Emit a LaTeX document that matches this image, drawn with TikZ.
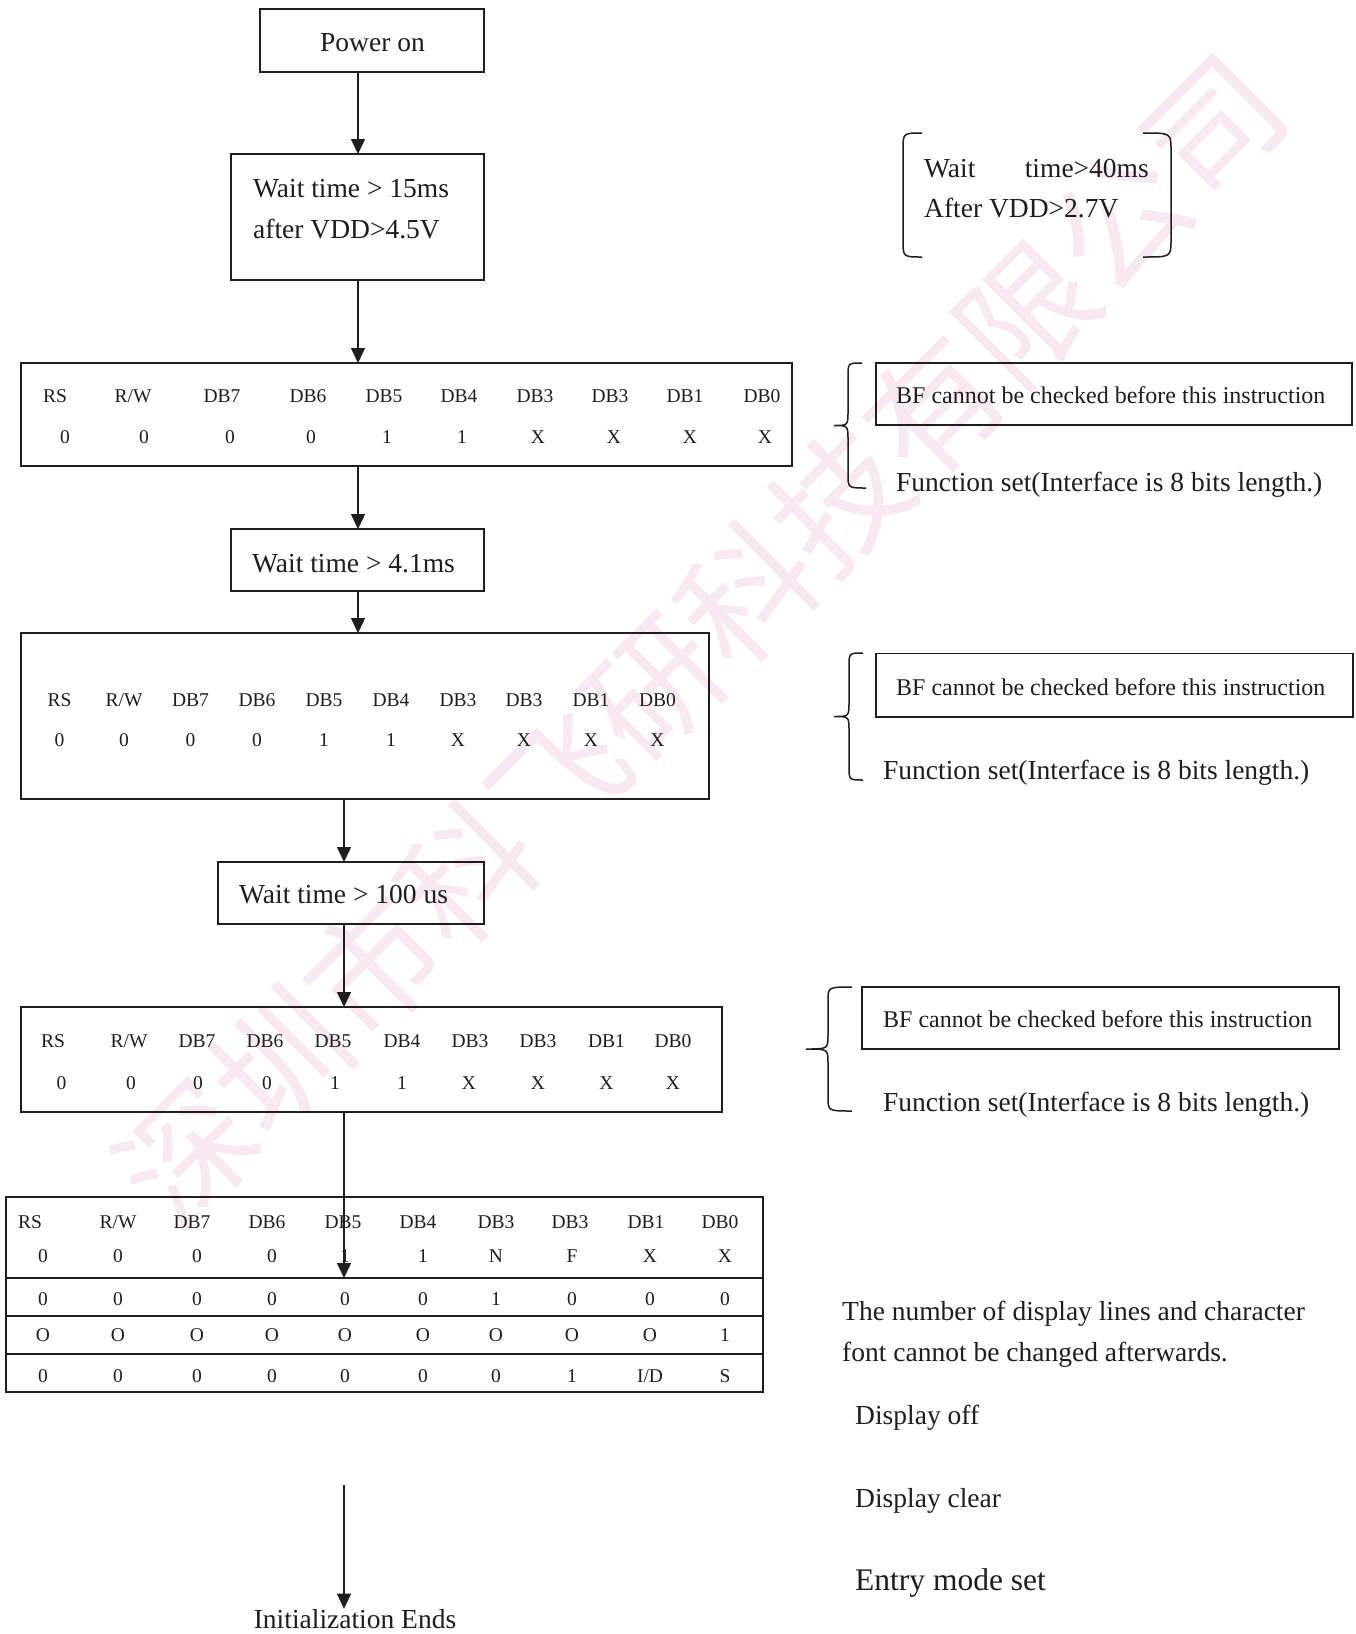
\documentclass[tikz,border=0pt]{standalone}
\usepackage{fontspec}
\setmainfont{Liberation Serif}
\newfontfamily\wmfont{Noto Sans CJK SC}
\usetikzlibrary{arrows.meta}
\definecolor{ink}{RGB}{30,30,30}
\definecolor{wmc}{RGB}{247,232,241}
\def\myRW{R/W}
\def\myID{I/D}
\begin{document}
\begin{tikzpicture}[x=1pt,y=-1pt,
  box/.style={draw=ink,line width=1.6pt,inner sep=0pt,outer sep=0pt,rectangle},
  tbox/.style={draw=ink,line width=2.4pt,inner sep=0pt,outer sep=0pt,rectangle},
  arr/.style={draw=ink,line width=1.4pt,-{Triangle[width=14pt,length=15pt]}},
  brc/.style={draw=ink,line width=1.5pt},
  big/.style={font=\fontsize{27.5}{33}\selectfont,inner sep=0pt,text=ink},
  bf/.style={font=\fontsize{24}{29}\selectfont,inner sep=0pt,anchor=base west,text=ink},
  cell/.style={font=\fontsize{19.5}{23}\selectfont,inner sep=0pt,anchor=base,text=ink},
]
\useasboundingbox (0,0) rectangle (1356,1634);
\fill[white] (0,0) rectangle (1356,1634);
% watermark
\node[rotate=45,text=wmc,font=\wmfont\fontsize{132}{132}\selectfont,inner sep=0pt] (wm) at (700,640) {深圳市科飞研科技有限公司};

% boxes
\node[box,minimum width=224pt,minimum height=63pt] (pw) at (372,40.5) {};
\node[box,minimum width=253pt,minimum height=126pt] (w1) at (357.5,217) {};
\node[box,minimum width=771pt,minimum height=103pt] (t1) at (406.5,414.5) {};
\node[box,minimum width=253pt,minimum height=62pt] (w2) at (357.5,560) {};
\node[box,minimum width=688pt,minimum height=166pt] (t2) at (365,716) {};
\node[box,minimum width=266pt,minimum height=62pt] (w3) at (351,893) {};
\node[box,minimum width=701pt,minimum height=105pt] (t3) at (371.5,1059.5) {};
\node[tbox,minimum width=757pt,minimum height=81pt] (bt1) at (384.5,1237.5) {};
\node[tbox,minimum width=757pt,minimum height=38pt] (bt2) at (384.5,1297) {};
\node[tbox,minimum width=757pt,minimum height=38pt] (bt3) at (384.5,1335) {};
\node[tbox,minimum width=757pt,minimum height=38pt] (bt4) at (384.5,1373) {};
\node[box,minimum width=476pt,minimum height=62pt] (bf1) at (1114,394) {};
\node[box,minimum width=477pt,minimum height=63.5pt] (bf2) at (1114.5,685.25) {};
\node[box,minimum width=477pt,minimum height=62pt] (bf3) at (1100.5,1018) {};

% box texts
\node[big,anchor=base] (pwt) at (372.5,51.5) {Power on};
\node[big,anchor=base west] (w1a) at (253,197) {Wait time > 15ms};
\node[big,anchor=base west] (w1b) at (253,238) {after VDD>4.5V};
\node[big,anchor=base west] (w2a) at (252,572) {Wait time > 4.1ms};
\node[big,anchor=base west] (w3a) at (239,903) {Wait time > 100 us};

% table 1
\foreach \x/\t [count=\i] in {55/RS,133/\myRW,222/DB7,308/DB6,384/DB5,459/DB4,535/DB3,610/DB3,685/DB1,762/DB0}
  \node[cell] (tah\i) at (\x,402) {\t};
\foreach \x/\t [count=\i] in {65/0,144/0,230/0,311/0,387/1,462/1,538/X,614/X,690/X,765/X}
  \node[cell] (tav\i) at (\x,443) {\t};
% table 2
\foreach \x/\t [count=\i] in {59.5/RS,124/\myRW,190.5/DB7,257/DB6,324/DB5,391/DB4,458/DB3,524/DB3,591/DB1,657.5/DB0}
  \node[cell] (tbh\i) at (\x,706) {\t};
\foreach \x/\t [count=\i] in {59.5/0,124/0,190.5/0,257/0,324/1,391/1,458/X,524/X,591/X,657.5/X}
  \node[cell] (tbv\i) at (\x,746.5) {\t};
% table 3
\foreach \x/\t [count=\i] in {53/RS,129/\myRW,197/DB7,265/DB6,333/DB5,402/DB4,470/DB3,538/DB3,606.5/DB1,673/DB0}
  \node[cell] (tch\i) at (\x,1047.5) {\t};
\foreach \x/\t [count=\i] in {61.5/0,131/0,198/0,267/0,335/1,402/1,469/X,538/X,606.5/X,673/X}
  \node[cell] (tcv\i) at (\x,1089) {\t};
% bottom table
\foreach \x/\t [count=\i] in {30/RS,118/\myRW,192/DB7,267/DB6,343/DB5,418/DB4,496/DB3,570/DB3,646/DB1,720/DB0}
  \node[cell] (tdh\i) at (\x,1228) {\t};
\foreach \x/\t [count=\i] in {43/0,118/0,197/0,272/0,345/1,423/1,496/N,572/F,650/X,725/X}
  \node[cell] (tdv\i) at (\x,1262) {\t};
\foreach \x/\t [count=\i] in {43/0,118/0,197/0,272/0,345/0,423/0,496/1,572/0,650/0,725/0}
  \node[cell] (tdr\i) at (\x,1305) {\t};
\foreach \x/\t [count=\i] in {43/O,118/O,197/O,272/O,345/O,423/O,496/O,572/O,650/O,725/1}
  \node[cell] (tds\i) at (\x,1341.5) {\t};
\foreach \x/\t [count=\i] in {43/0,118/0,197/0,272/0,345/0,423/0,496/0,572/1,650/\myID,725/S}
  \node[cell] (tdt\i) at (\x,1382) {\t};

% right side notes
\draw[brc] (922,133) .. controls (903,133) .. (903,150) -- (903,240) .. controls (903,257) .. (922,257);
\draw[brc] (1143,133) .. controls (1171,133) .. (1171,150) -- (1171,240) .. controls (1171,257) .. (1143,257);
\node[big,anchor=base west] (wt40a) at (924,177) {Wait};
\node[big,anchor=base east] (wt40b) at (1149,177) {time>40ms};
\node[big,anchor=base west] (wt40c) at (924,217) {After VDD>2.7V};

\draw[brc] (862,363) .. controls (848,363) .. (848,377) -- (848,411) .. controls (848,425.5) .. (834,425.5) .. controls (848,425.5) .. (848,440) -- (848,474) .. controls (848,488) .. (866,488);
\node[bf] (bft1) at (896,403) {BF cannot be checked before this instruction};
\node[big,anchor=base west] (fs1) at (896,491) {Function set(Interface is 8 bits length.)};

\draw[brc] (863,653) .. controls (849,653) .. (849,667) -- (849,702) .. controls (849,716.5) .. (834,716.5) .. controls (849,716.5) .. (849,731) -- (849,766) .. controls (849,780) .. (863,780);
\node[bf] (bft2) at (896,695) {BF cannot be checked before this instruction};
\node[big,anchor=base west] (fs2) at (883,779) {Function set(Interface is 8 bits length.)};

\draw[brc] (852,987) .. controls (828,987) .. (828,1001) -- (828,1035) .. controls (828,1049) .. (806,1049) .. controls (828,1049) .. (828,1063) -- (828,1097) .. controls (828,1111) .. (852,1111);
\node[bf] (bft3) at (883,1027) {BF cannot be checked before this instruction};
\node[big,anchor=base west] (fs3) at (883,1111) {Function set(Interface is 8 bits length.)};

\node[big,anchor=base west] (n1) at (842,1320) {The number of display lines and character};
\node[big,anchor=base west] (n2) at (842,1361.5) {font cannot be changed afterwards.};
\node[big,anchor=base west] (n3) at (855,1424) {Display off};
\node[big,anchor=base west] (n4) at (855,1507.5) {Display clear};
\node[font=\fontsize{31.5}{36}\selectfont,inner sep=0pt,anchor=base west,text=ink] (n5) at (855,1590) {Entry mode set};
\node[big,anchor=base] (ie) at (355,1628) {Initialization Ends};

% connectors
\coordinate (ca) at (358,0);
\coordinate (cb) at (344,0);
\coordinate (a8s) at (344,1485);
\draw[arr] (pw.south -| ca) -- (w1.north -| ca);
\draw[arr] (w1.south -| ca) -- (t1.north -| ca);
\draw[arr] (t1.south -| ca) -- (w2.north -| ca);
\draw[arr] (w2.south -| ca) -- (t2.north -| ca);
\draw[arr] (t2.south -| cb) -- (w3.north -| cb);
\draw[arr] (w3.south -| cb) -- (t3.north -| cb);
\draw[arr] (t3.south -| cb) -- (bt1.south -| cb);
\draw[arr] (a8s) -- (a8s |- ie.north);
\end{tikzpicture}
\end{document}
